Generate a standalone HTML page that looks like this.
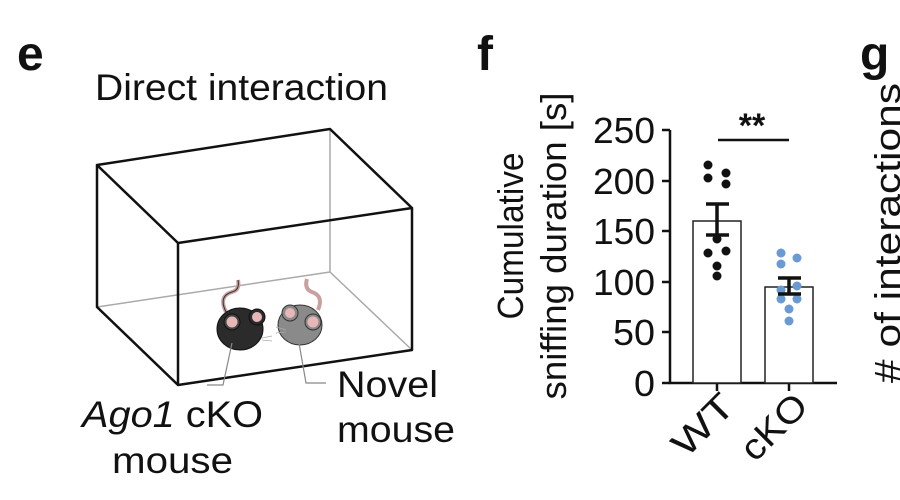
<!DOCTYPE html>
<html><head><meta charset="utf-8"><style>html,body{margin:0;padding:0;background:#fff}svg{display:block}</style></head>
<body>
<svg width="900" height="500" viewBox="0 0 900 500" xmlns="http://www.w3.org/2000/svg" font-family="Liberation Sans, Arial, sans-serif" fill="#111">
<text x="17" y="70" font-size="48" font-weight="bold">e</text>
<text x="477" y="70" font-size="48" font-weight="bold">f</text>
<text x="860" y="70" font-size="48" font-weight="bold">g</text>
<text x="95" y="100" font-size="37" textLength="293" lengthAdjust="spacingAndGlyphs">Direct interaction</text>

<!-- box -->
<g fill="none" stroke-linecap="round" stroke-linejoin="round">
<path d="M97 307 L330 272 L330 129 M330 272 L412 350" stroke="#aaa" stroke-width="1.5"/>
<path d="M97 165 L330 129 L412 208 L178 243 Z M97 165 L97 307 L178 385 L412 350 L412 208 M178 243 L178 385" stroke="#111" stroke-width="2.5"/>
</g>
<!-- mice -->
<path d="M226 312 Q218 296 232 292 Q240 290 238 280" fill="none" stroke="#c9a0a0" stroke-width="4"/>
<path d="M226 312 Q218 296 232 292 Q240 290 238 280" fill="none" stroke="#333" stroke-width="1"/>
<path d="M318 310 Q324 296 312 292 Q304 289 307 279" fill="none" stroke="#c9a0a0" stroke-width="4"/>
<ellipse cx="240" cy="329" rx="23" ry="21" fill="#2b2b2b" stroke="#111"/>
<circle cx="257" cy="317" r="8" fill="#2b2b2b" stroke="#111"/>
<circle cx="257" cy="317" r="5" fill="#e7b7b7"/>
<circle cx="232" cy="322" r="8" fill="#444" stroke="#111"/>
<circle cx="232" cy="322" r="5.5" fill="#e7b7b7"/>
<path d="M262 338 L272 336 M262 340 L272 341" stroke="#aaa" stroke-width="0.8"/>
<ellipse cx="300" cy="325" rx="22" ry="20" fill="#8a8a8a" stroke="#333"/>
<circle cx="290" cy="313" r="8" fill="#8a8a8a" stroke="#333"/>
<circle cx="290" cy="313" r="5" fill="#e7b7b7"/>
<circle cx="313" cy="322" r="8" fill="#8a8a8a" stroke="#333"/>
<circle cx="313" cy="322" r="5.5" fill="#e7b7b7"/>
<path d="M286 330 L276 327 M286 332 L276 333" stroke="#aaa" stroke-width="0.8"/>
<!-- leaders -->
<path d="M232 343 L223 385 L207 385 M299 343 L306 383 L326 383" fill="none" stroke="#888" stroke-width="1.2"/>

<text x="337" y="397" font-size="37" textLength="101" lengthAdjust="spacingAndGlyphs">Novel</text>
<text x="337" y="442" font-size="37" textLength="118" lengthAdjust="spacingAndGlyphs">mouse</text>
<text x="82" y="427" font-size="37" textLength="181" lengthAdjust="spacingAndGlyphs"><tspan font-style="italic">Ago1</tspan> cKO</text>
<text x="112" y="473" font-size="37" textLength="121" lengthAdjust="spacingAndGlyphs">mouse</text>

<!-- chart -->
<text transform="translate(523,236) rotate(-90)" text-anchor="middle" font-size="36" textLength="167" lengthAdjust="spacingAndGlyphs">Cumulative</text>
<text transform="translate(566,246) rotate(-90)" text-anchor="middle" font-size="36" textLength="307" lengthAdjust="spacingAndGlyphs">sniffing duration [s]</text>
<g font-size="36" text-anchor="end">
<text x="655" y="143" textLength="62" lengthAdjust="spacingAndGlyphs">250</text>
<text x="655" y="194" textLength="62" lengthAdjust="spacingAndGlyphs">200</text>
<text x="655" y="244" textLength="62" lengthAdjust="spacingAndGlyphs">150</text>
<text x="655" y="295" textLength="62" lengthAdjust="spacingAndGlyphs">100</text>
<text x="655" y="345" textLength="42" lengthAdjust="spacingAndGlyphs">50</text>
<text x="655" y="396" textLength="21" lengthAdjust="spacingAndGlyphs">0</text>
</g>
<g stroke="#111" stroke-width="2.5" fill="none">
<path d="M670 130 L670 383 L837 383"/>
<path d="M662 130 L670 130 M662 181 L670 181 M662 231 L670 231 M662 282 L670 282 M662 332 L670 332 M662 383 L670 383"/>
<path d="M717 383 L717 391 M789 383 L789 391"/>
<path d="M718 140 L789 140"/>
</g>
<rect x="693" y="221" width="48" height="162" fill="#fff" stroke="#222" stroke-width="1.5"/>
<rect x="765" y="287" width="48" height="96" fill="#fff" stroke="#222" stroke-width="1.5"/>
<g fill="#111">
<circle cx="708" cy="165" r="4.5"/><circle cx="726" cy="173" r="4.5"/><circle cx="708" cy="178" r="4.5"/><circle cx="726" cy="184" r="4.5"/>
<circle cx="717" cy="239" r="4.5"/><circle cx="708" cy="253" r="4.5"/><circle cx="726" cy="251" r="4.5"/><circle cx="717" cy="266" r="4.5"/><circle cx="717" cy="276" r="4.5"/>
</g>
<g fill="#6a9ad3">
<circle cx="781" cy="253" r="4.5"/><circle cx="797" cy="258" r="4.5"/><circle cx="781" cy="264" r="4.5"/><circle cx="781" cy="290" r="4.5"/><circle cx="797" cy="286" r="4.5"/>
<circle cx="797" cy="299" r="4.5"/><circle cx="781" cy="299" r="4.5"/><circle cx="789" cy="309" r="4.5"/><circle cx="789" cy="321" r="4.5"/>
</g>
<g stroke="#111" stroke-width="3.5" fill="none">
<path d="M706 204 L729 204 M717 204 L717 235 M706 235 L729 235"/>
<path d="M778 278 L801 278 M789 278 L789 294 M778 294 L801 294"/>
</g>
<text x="752" y="137" text-anchor="middle" font-size="34" font-weight="bold">**</text>
<text transform="translate(737,408) rotate(-45)" text-anchor="end" font-size="36" textLength="72" lengthAdjust="spacingAndGlyphs">WT</text>
<text transform="translate(810,408) rotate(-45)" text-anchor="end" font-size="36" textLength="78" lengthAdjust="spacingAndGlyphs">cKO</text>
<text transform="translate(900,383) rotate(-90)" font-size="36" textLength="300" lengthAdjust="spacingAndGlyphs"># of interactions</text>
</svg>
</body></html>
